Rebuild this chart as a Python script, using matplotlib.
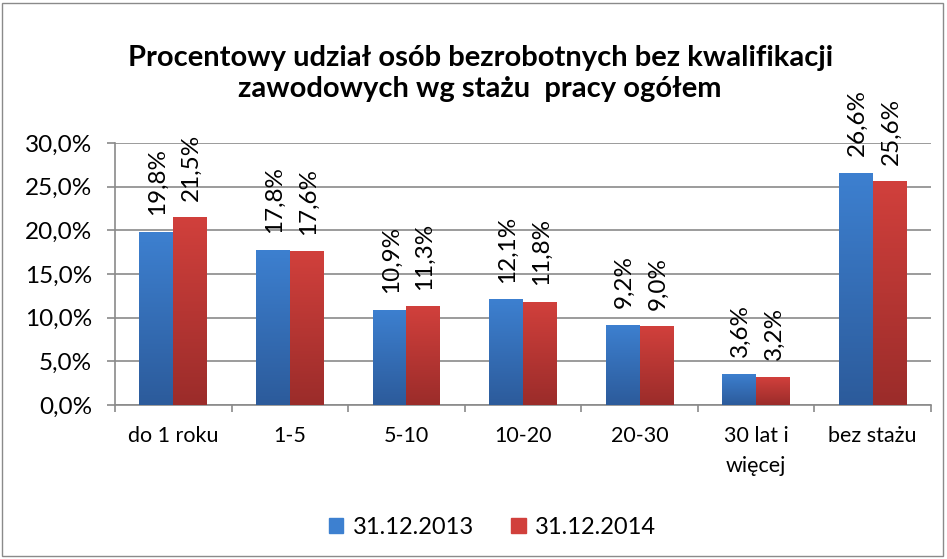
import matplotlib
matplotlib.use('Agg')
import matplotlib.pyplot as plt
from matplotlib.colors import LinearSegmentedColormap
from matplotlib.patches import Rectangle
import numpy as np

plt.rcParams['font.family'] = ['Lato', 'DejaVu Sans']

categories = ['do 1 roku', '1-5', '5-10', '10-20', '20-30', '30 lat i\nwięcej', 'bez stażu']
values_2013 = [19.8, 17.8, 10.9, 12.1, 9.2, 3.6, 26.6]
values_2014 = [21.5, 17.6, 11.3, 11.8, 9.0, 3.2, 25.6]
series_names = ['31.12.2013', '31.12.2014']
title = 'Procentowy udział osób bezrobotnych bez kwalifikacji\nzawodowych wg stażu  pracy ogółem'

blue_top, blue_bottom = '#3d80d0', '#2c5b9b'
red_top, red_bottom = '#d1403c', '#9b2c2a'
grid_color = '#8a8a8a'


def gradient_bars(ax, bars, top, bottom):
    # fill each bar with a vertical gradient, clipped to the bar
    cmap = LinearSegmentedColormap.from_list('g', [bottom, top])
    grad = np.linspace(0, 1, 256).reshape(-1, 1)
    for b in bars:
        x0, w, h = b.get_x(), b.get_width(), b.get_height()
        b.set_facecolor('none')
        img = ax.imshow(grad, cmap=cmap, origin='lower', aspect='auto',
                        extent=(x0, x0 + w, 0, h), zorder=3)
        img.set_clip_path(b)


def fmt(v):
    return ('%.1f%%' % v).replace('.', ',')


def main():
    fig = plt.figure(figsize=(9.47, 5.59), dpi=100)
    ax = fig.add_axes([115 / 947, 1 - 405 / 559, 816 / 947, 262 / 559])

    x = np.arange(len(categories))
    w = 0.29
    bars1 = ax.bar(x - w / 2, values_2013, w, color=blue_top, zorder=3, linewidth=0)
    bars2 = ax.bar(x + w / 2, values_2014, w, color=red_top, zorder=3, linewidth=0)
    gradient_bars(ax, bars1, blue_top, blue_bottom)
    gradient_bars(ax, bars2, red_top, red_bottom)

    for bars, vals in ((bars1, values_2013), (bars2, values_2014)):
        for b, v in zip(bars, vals):
            ax.annotate(fmt(v), (b.get_x() + b.get_width() / 2, v),
                        xytext=(1, 12), textcoords='offset points',
                        rotation=90, ha='center', va='bottom', fontsize=17.5)

    ax.set_xlim(-0.5, len(categories) - 0.5)
    ax.set_ylim(0, 30)
    ax.set_yticks(np.arange(0, 31, 5))
    ax.set_yticklabels([fmt(t) for t in np.arange(0, 31, 5)], fontsize=17.5)
    ax.yaxis.grid(True, color=grid_color, linewidth=1.2, zorder=0)
    ax.set_axisbelow(True)

    ax.set_xticks(x)
    ax.set_xticklabels(categories, fontsize=15.5, linespacing=1.65)
    ax.set_xticks(np.arange(-0.5, len(categories)), minor=True)
    ax.tick_params(axis='x', which='major', length=0, pad=15)
    ax.tick_params(axis='x', which='minor', length=5, color=grid_color, width=1.2)
    ax.tick_params(axis='y', length=5.5, color=grid_color, width=1.2, pad=11)

    for s in ('top', 'right'):
        ax.spines[s].set_visible(False)
    for s in ('left', 'bottom'):
        ax.spines[s].set_color(grid_color)
        ax.spines[s].set_linewidth(1.2)

    fig.text(0.507, 0.868, title, ha='center', va='center', fontsize=21,
             fontweight='bold', linespacing=1.25)

    handles = [Rectangle((0, 0), 1, 1, color=blue_top), Rectangle((0, 0), 1, 1, color=red_top)]
    fig.legend(handles, series_names, loc='center', bbox_to_anchor=(0.52, 0.057),
               ncol=2, frameon=False, fontsize=17, handlelength=0.6, handleheight=0.6,
               handletextpad=0.4, columnspacing=1.6)

    fig.patches.append(Rectangle((0.002, 0.005), 0.994, 0.99, transform=fig.transFigure,
                                 fill=False, edgecolor='#8a8a8a', linewidth=1))

    fig.savefig('out.png', dpi=100)


if __name__ == "__main__":
    main()
